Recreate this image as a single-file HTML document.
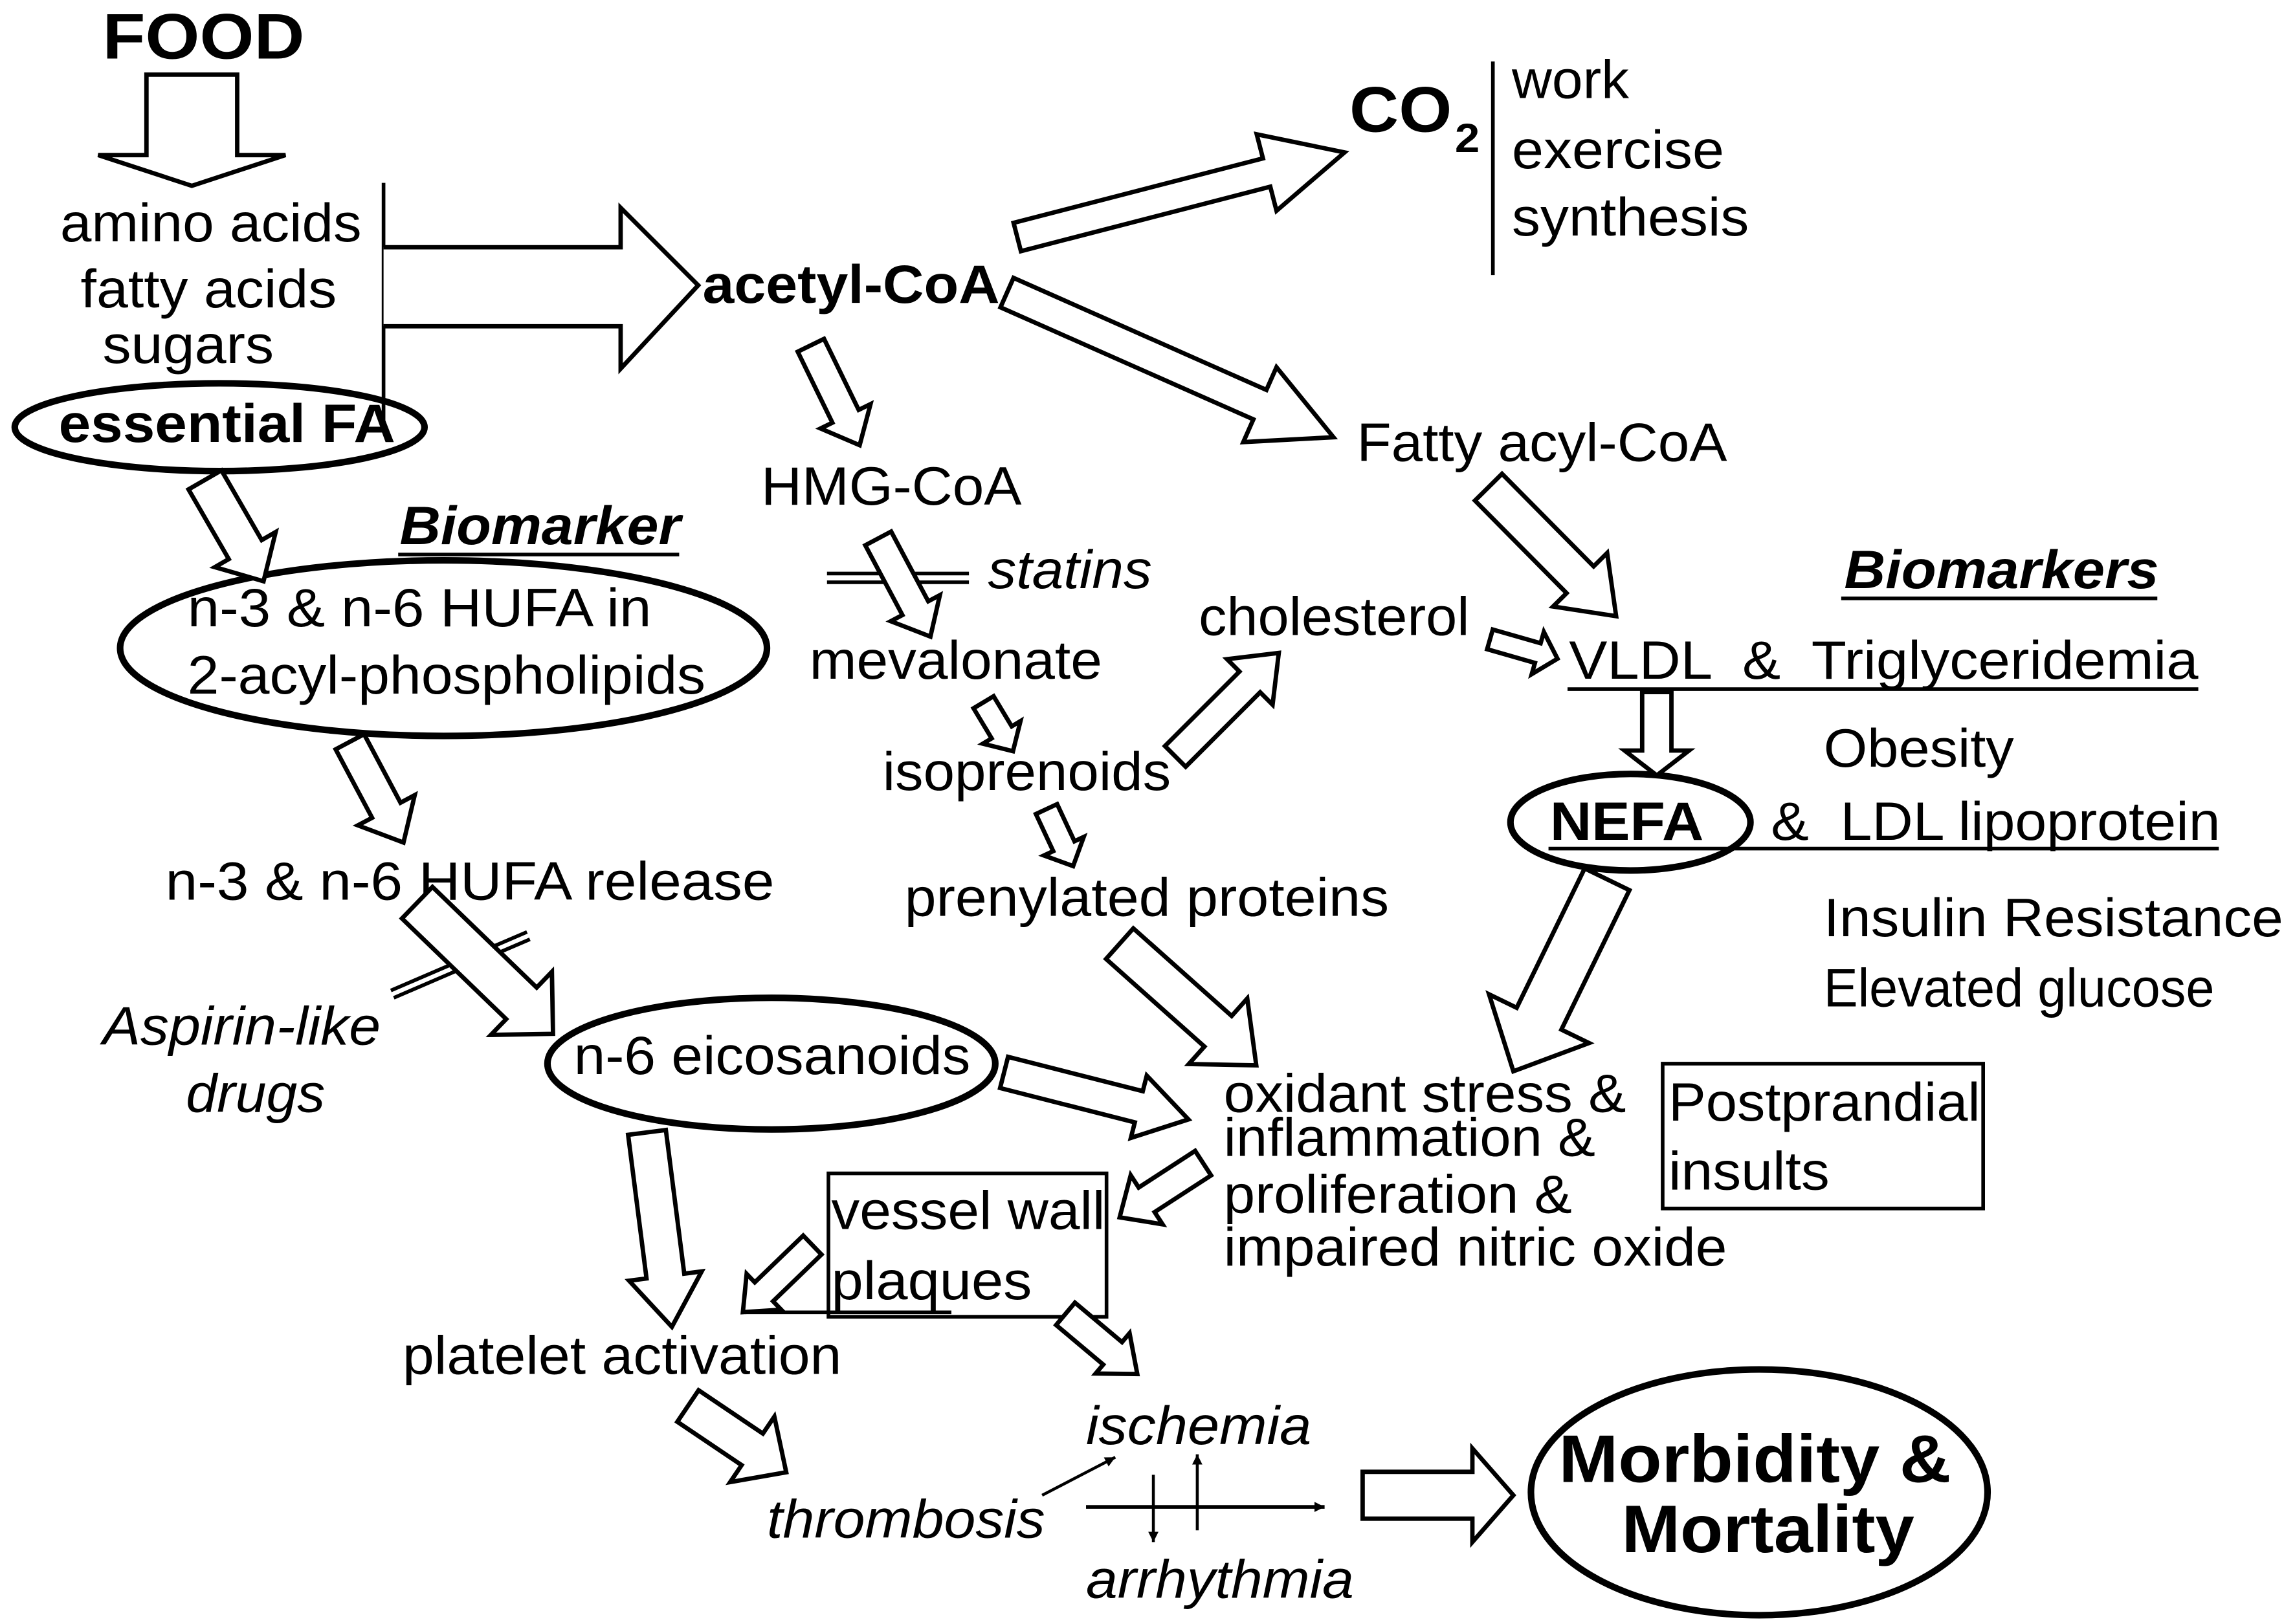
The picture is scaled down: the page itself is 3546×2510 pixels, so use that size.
<!DOCTYPE html>
<html><head><meta charset="utf-8"><style>
html,body{margin:0;padding:0;background:#fff;}
svg{display:block;}
text{font-family:"Liberation Sans",Arial,sans-serif;fill:#000;}
.b{font-weight:bold;}
.i{font-style:italic;}
.a{fill:#fff;stroke:#000;stroke-width:3;stroke-linejoin:miter;}
.e{fill:none;stroke:#000;stroke-width:4.5;}
.l{stroke:#000;stroke-width:2.5;fill:none;}
</style></head><body>
<svg width="3546" height="2510" viewBox="0 0 1568 1110" xmlns="http://www.w3.org/2000/svg">
<defs>
<marker id="m" viewBox="0 0 10 10" refX="10" refY="5" markerWidth="7" markerHeight="7" markerUnits="userSpaceOnUse" orient="auto"><path d="M0,0 L10,5 L0,10 z" fill="#000"/></marker>
</defs>
<rect width="1568" height="1110" fill="#fff"/>

<!-- texts -->
<g font-size="37">
<text x="70" y="40" class="b" font-size="44" textLength="138" lengthAdjust="spacingAndGlyphs">FOOD</text>
<text x="41" y="165" textLength="206" lengthAdjust="spacingAndGlyphs">amino acids</text>
<text x="55" y="210" textLength="175" lengthAdjust="spacingAndGlyphs">fatty acids</text>
<text x="70" y="248" textLength="117" lengthAdjust="spacingAndGlyphs">sugars</text>
<text x="40" y="302" class="b" textLength="230" lengthAdjust="spacingAndGlyphs">essential FA</text>
<text x="480" y="207" class="b" textLength="203" lengthAdjust="spacingAndGlyphs">acetyl-CoA</text>
<text x="922" y="90" class="b" font-size="44" textLength="70" lengthAdjust="spacingAndGlyphs">CO</text>
<text x="994" y="104" class="b" font-size="28" textLength="17" lengthAdjust="spacingAndGlyphs">2</text>
<text x="1033" y="67" textLength="80" lengthAdjust="spacingAndGlyphs">work</text>
<text x="1033" y="115" textLength="145" lengthAdjust="spacingAndGlyphs">exercise</text>
<text x="1033" y="161" textLength="162" lengthAdjust="spacingAndGlyphs">synthesis</text>
<text x="927" y="315" textLength="253" lengthAdjust="spacingAndGlyphs">Fatty acyl-CoA</text>
<text x="520" y="345" textLength="178" lengthAdjust="spacingAndGlyphs">HMG-CoA</text>
<text x="273" y="372" class="b i" textLength="192" lengthAdjust="spacingAndGlyphs">Biomarker</text>
<text x="675" y="402" class="i" textLength="112" lengthAdjust="spacingAndGlyphs">statins</text>
<text x="128" y="428" textLength="317" lengthAdjust="spacingAndGlyphs">n-3 &amp; n-6 HUFA in</text>
<text x="128" y="474" textLength="354" lengthAdjust="spacingAndGlyphs">2-acyl-phospholipids</text>
<text x="553" y="464" textLength="200" lengthAdjust="spacingAndGlyphs">mevalonate</text>
<text x="819" y="434" textLength="185" lengthAdjust="spacingAndGlyphs">cholesterol</text>
<text x="1260" y="402" class="b i" textLength="215" lengthAdjust="spacingAndGlyphs">Biomarkers</text>
<text x="1072" y="464" textLength="430" lengthAdjust="spacingAndGlyphs" xml:space="preserve">VLDL  &amp;  Triglyceridemia</text>
<text x="1246" y="524" textLength="130" lengthAdjust="spacingAndGlyphs">Obesity</text>
<text x="603" y="540" textLength="197" lengthAdjust="spacingAndGlyphs">isoprenoids</text>
<text x="1059" y="574" class="b" textLength="105" lengthAdjust="spacingAndGlyphs">NEFA</text>
<text x="1210" y="574" textLength="307" lengthAdjust="spacingAndGlyphs" xml:space="preserve">&amp;  LDL lipoprotein</text>
<text x="618" y="626" textLength="331" lengthAdjust="spacingAndGlyphs">prenylated proteins</text>
<text x="113" y="615" textLength="416" lengthAdjust="spacingAndGlyphs">n-3 &amp; n-6 HUFA release</text>
<text x="1246" y="640" textLength="314" lengthAdjust="spacingAndGlyphs">Insulin Resistance</text>
<text x="1246" y="688" textLength="267" lengthAdjust="spacingAndGlyphs">Elevated glucose</text>
<text x="70" y="714" class="i" textLength="190" lengthAdjust="spacingAndGlyphs">Aspirin-like</text>
<text x="127" y="760" class="i" textLength="95" lengthAdjust="spacingAndGlyphs">drugs</text>
<text x="392" y="734" textLength="271" lengthAdjust="spacingAndGlyphs">n-6 eicosanoids</text>
<text x="836" y="760" textLength="275" lengthAdjust="spacingAndGlyphs">oxidant stress &amp;</text>
<text x="836" y="790" textLength="254" lengthAdjust="spacingAndGlyphs">inflammation &amp;</text>
<text x="836" y="829" textLength="238" lengthAdjust="spacingAndGlyphs">proliferation &amp;</text>
<text x="836" y="865" textLength="344" lengthAdjust="spacingAndGlyphs">impaired nitric oxide</text>
<text x="1140" y="766" textLength="213" lengthAdjust="spacingAndGlyphs">Postprandial</text>
<text x="1140" y="813" textLength="110" lengthAdjust="spacingAndGlyphs">insults</text>
<text x="568" y="840" textLength="187" lengthAdjust="spacingAndGlyphs">vessel wall</text>
<text x="568" y="888" textLength="137" lengthAdjust="spacingAndGlyphs">plaques</text>
<text x="275" y="939" textLength="300" lengthAdjust="spacingAndGlyphs">platelet activation</text>
<text x="742" y="987" class="i" textLength="154" lengthAdjust="spacingAndGlyphs">ischemia</text>
<text x="524" y="1051" class="i" textLength="190" lengthAdjust="spacingAndGlyphs">thrombosis</text>
<text x="742" y="1092" class="i" textLength="183" lengthAdjust="spacingAndGlyphs">arrhythmia</text>
<text x="1065" y="1013" class="b" font-size="46" textLength="268" lengthAdjust="spacingAndGlyphs">Morbidity &amp;</text>
<text x="1108" y="1061" class="b" font-size="46" textLength="200" lengthAdjust="spacingAndGlyphs">Mortality</text>
</g>

<!-- lines -->
<line class="l" x1="262" y1="125" x2="262" y2="290"/>
<line class="l" x1="1020" y1="42" x2="1020" y2="188"/>
<line class="l" x1="272" y1="379" x2="464" y2="379"/>
<line class="l" x1="1258" y1="409" x2="1474" y2="409"/>
<line class="l" x1="1071" y1="471" x2="1502" y2="471"/>
<line class="l" x1="1058" y1="580" x2="1516" y2="580"/>
<line class="l" x1="565" y1="392" x2="662" y2="392"/>
<line class="l" x1="565" y1="398" x2="662" y2="398"/>
<line class="l" x1="267" y1="677" x2="360" y2="637"/>
<line class="l" x1="269" y1="682" x2="362" y2="642"/>
<line class="l" x1="509" y1="897" x2="650" y2="897"/>
<rect class="l" x="566" y="802" width="190" height="98"/>
<rect class="l" x="1136" y="727" width="219" height="99"/>

<!-- ellipses -->
<ellipse class="e" cx="150" cy="292" rx="140" ry="30"/>
<ellipse class="e" cx="303" cy="443" rx="221" ry="60"/>
<ellipse class="e" cx="527" cy="727" rx="153" ry="45"/>
<ellipse class="e" cx="1114" cy="562" rx="82" ry="33"/>
<ellipse class="e" cx="1202" cy="1020" rx="156" ry="84"/>

<!-- block arrows -->
<polygon class="a" transform="translate(131,51) rotate(90)" points="0,-31 55,-31 55,-64 76,0 55,64 55,31 0,31"/>
<polyline class="a" points="262,169 424,169 424,142 477,195 424,252 424,223 262,223"/>
<polygon class="a" transform="translate(695,162) rotate(-14.5)" points="0,-10 176,-10 176,-27 231,0 176,27 176,10 0,10"/>
<polygon class="a" transform="translate(688,200) rotate(23.9)" points="0,-11 189,-11 189,-28 244,0 189,28 189,11 0,11"/>
<polygon class="a" transform="translate(554,236) rotate(64)" points="0,-10 54,-10 54,-19 76,0 54,19 54,10 0,10"/>
<polygon class="a" transform="translate(140,328) rotate(60)" points="0,-13 55,-13 55,-24 80,0 55,24 55,13 0,13"/>
<polygon class="a" transform="translate(600,368) rotate(62)" points="0,-10 54,-10 54,-19 76,0 54,19 54,10 0,10"/>
<polygon class="a" transform="translate(672,480) rotate(59)" points="0,-8 24,-8 24,-15 39,0 24,15 24,8 0,8"/>
<polygon class="a" transform="translate(239,507) rotate(62)" points="0,-11 53,-11 53,-22 78,0 53,22 53,11 0,11"/>
<polygon class="a" transform="translate(285,617) rotate(44)" points="0,-15 99,-15 99,-30 129,0 99,30 99,15 0,15"/>
<polygon class="a" transform="translate(803,517) rotate(-45)" points="0,-10 72,-10 72,-22 100,0 72,22 72,10 0,10"/>
<polygon class="a" transform="translate(715,553) rotate(65)" points="0,-8 28,-8 28,-15 43,0 28,15 28,8 0,8"/>
<polygon class="a" transform="translate(1018,437) rotate(16)" points="0,-7 34,-7 34,-15 48,0 34,15 34,7 0,7"/>
<polygon class="a" transform="translate(1017,333) rotate(45.3)" points="0,-13 89,-13 89,-26 124,0 89,26 89,13 0,13"/>
<polygon class="a" transform="translate(1132,473) rotate(90)" points="0,-10 40,-10 40,-22 57,0 40,22 40,10 0,10"/>
<polygon class="a" transform="translate(1098,601) rotate(116)" points="0,-17 106,-17 106,-38 146,0 106,38 106,17 0,17"/>
<polygon class="a" transform="translate(765,645) rotate(41.7)" points="0,-14 90,-14 90,-30 125,0 90,30 90,14 0,14"/>
<polygon class="a" transform="translate(686,733) rotate(14.3)" points="0,-11 95,-11 95,-22 130,0 95,22 95,11 0,11"/>
<polygon class="a" transform="translate(822,795) rotate(147)" points="0,-10 46,-10 46,-20 68,0 46,20 46,10 0,10"/>
<polygon class="a" transform="translate(442,774) rotate(82.7)" points="0,-13 99,-13 99,-25 134,0 99,25 99,13 0,13"/>
<polygon class="a" transform="translate(555,851) rotate(136)" points="0,-9 46,-9 46,-17 66,0 46,17 46,9 0,9"/>
<polygon class="a" transform="translate(728,898) rotate(40)" points="0,-10 42,-10 42,-18 64,0 42,18 42,10 0,10"/>
<polygon class="a" transform="translate(470,961) rotate(34)" points="0,-13 53,-13 53,-27 81,0 53,27 53,13 0,13"/>
<polygon class="a" points="931,1006 1006,1006 1006,990 1034,1022 1006,1054 1006,1038 931,1038"/>

<!-- thin arrows -->
<line x1="712" y1="1022" x2="762" y2="996" stroke="#000" stroke-width="2" marker-end="url(#m)"/>
<line x1="742" y1="1030" x2="905" y2="1030" stroke="#000" stroke-width="2.5" marker-end="url(#m)"/>
<line x1="788" y1="1008" x2="788" y2="1054" stroke="#000" stroke-width="2" marker-end="url(#m)"/>
<line x1="818" y1="1046" x2="818" y2="994" stroke="#000" stroke-width="2" marker-end="url(#m)"/>
</svg>
</body></html>
